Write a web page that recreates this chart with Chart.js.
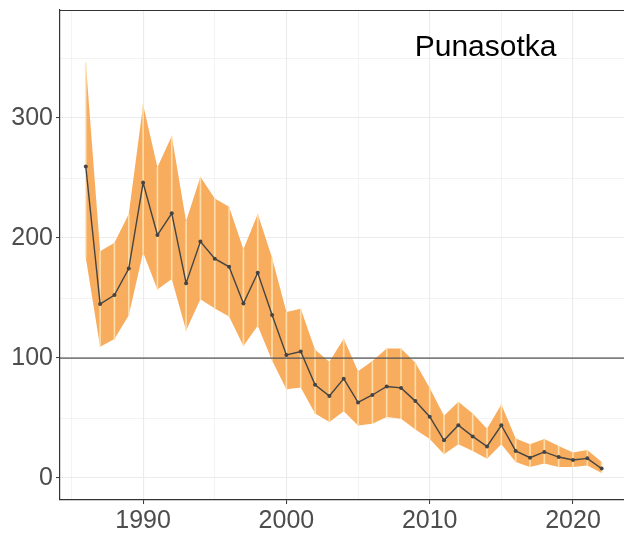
<!DOCTYPE html>
<html>
<head>
<meta charset="utf-8">
<script src="https://cdn.jsdelivr.net/npm/chart.js@4"></script>
<style>
  body { margin: 0; background: #fff; }
  canvas { display: block; }
</style>
</head>
<body>
<canvas id="chart" width="624" height="533"></canvas>
<script>
// data
const years = [1986, 1987, 1988, 1989, 1990, 1991, 1992, 1993, 1994, 1995, 1996, 1997, 1998, 1999,
  2000, 2001, 2002, 2003, 2004, 2005, 2006, 2007, 2008, 2009, 2010, 2011, 2012, 2013, 2014, 2015,
  2016, 2017, 2018, 2019, 2020, 2021, 2022];
const index = [259.6, 145, 152.5, 174.6, 246, 202.5, 220.6, 162.4, 197, 182.8, 176, 145.5, 171, 135.9,
  102.5, 105.4, 77.7, 68.4, 82.8, 63, 69.2, 76.3, 75.1, 64.1, 51.1, 31.4, 44, 34.7, 26.3, 44,
  22.6, 17, 21.8, 17.5, 15, 16.4, 7.9];
const upper = [346, 189, 196, 220, 311, 259, 285, 214, 251, 233, 226, 190.7, 220, 183.6,
  138.4, 141, 107, 97, 116, 89, 97.5, 108, 108, 96, 75, 52, 63.5, 53.7, 41, 61.3,
  33, 28.2, 32.5, 26.8, 21.2, 23.4, 13.3];
const lower = [183.6, 109.3, 115.8, 135.6, 188, 157, 165.8, 122.9, 148.9, 141.2, 134.7, 110, 127, 98,
  74, 75.4, 53.7, 46.6, 55.6, 43.8, 45.2, 50.8, 49.4, 40.4, 32.5, 19.8, 28.2, 22.6, 16.1, 28.2,
  13.3, 9.3, 12.1, 9.3, 9.3, 10.5, 4.2];
const xTicks = [1985, 1990, 1995, 2000, 2005, 2010, 2015, 2020];
const yTicks = [0, 50, 100, 150, 200, 250, 300, 350];
const refLevel = 100;
const speciesName = "Punasotka";

const xMin = 1984.2, xMax = 2023.56;
const yMin = -18.3, yMax = 390;

const pts = arr => years.map((yr, i) => ({ x: yr, y: arr[i] }));

// panel border on top + species label
const panelPlugin = {
  id: 'panel',
  afterDraw(chart) {
    const { ctx, chartArea, scales } = chart;
    ctx.save();
    ctx.strokeStyle = '#333';
    ctx.lineWidth = 1;
    ctx.beginPath();
    ctx.moveTo(chartArea.left, chartArea.top + 0.5);
    ctx.lineTo(chartArea.right, chartArea.top + 0.5);
    ctx.stroke();
    ctx.fillStyle = '#000';
    ctx.font = '30px "Liberation Sans", Arial, sans-serif';
    ctx.textAlign = 'center';
    ctx.textBaseline = 'alphabetic';
    ctx.fillText(speciesName, scales.x.getPixelForValue(2013.9), scales.y.getPixelForValue(351.7));
    ctx.restore();
  }
};

const isMajor = (v, step) => Math.abs(v % step) < 1e-6;
const tickVal = c => (c.tick ? c.tick.value : NaN);

new Chart(document.getElementById('chart').getContext('2d'), {
  type: 'line',
  data: {
    datasets: [
      {
        label: 'lower',
        data: pts(lower),
        borderWidth: 0,
        pointRadius: 0,
        fill: false,
        order: 5
      },
      {
        label: 'upper',
        data: pts(upper),
        borderWidth: 0,
        pointRadius: 0,
        backgroundColor: 'rgba(248, 168, 84, 0.95)',
        fill: '-1',
        order: 4
      },
      {
        type: 'bar',
        label: 'seams',
        data: years.map((yr, i) => ({ x: yr, y: [lower[i], upper[i]] })),
        backgroundColor: 'rgba(253, 228, 180, 0.85)',
        barThickness: 1,
        grouped: false,
        order: 3
      },
      {
        label: 'ref',
        data: [{ x: xMin, y: refLevel }, { x: xMax, y: refLevel }],
        borderColor: '#555',
        borderWidth: 1.3,
        pointRadius: 0,
        fill: false,
        order: 2
      },
      {
        label: 'index',
        data: pts(index),
        borderColor: '#444',
        borderWidth: 1.4,
        pointRadius: 2,
        pointBackgroundColor: '#444',
        pointBorderWidth: 0,
        fill: false,
        tension: 0,
        order: 1
      }
    ]
  },
  options: {
    responsive: false,
    animation: false,
    layout: { autoPadding: false, padding: { top: 10, right: 0, left: 0, bottom: 0 } },
    plugins: {
      legend: { display: false },
      tooltip: { enabled: false }
    },
    scales: {
      x: {
        type: 'linear',
        offset: false,
        min: xMin,
        max: xMax,
        afterBuildTicks: scale => {
          scale.ticks = xTicks.map(v => ({ value: v }));
        },
        afterFit: scale => {
          scale.height = 33;
          scale.paddingLeft = 0;
          scale.paddingRight = 0;
        },
        ticks: {
          autoSkip: false,
          maxRotation: 0,
          padding: 2,
          color: '#4d4d4d',
          font: { size: 25, family: '"Liberation Sans", Arial, sans-serif' },
          callback: v => isMajor(v, 10) ? String(v) : ''
        },
        grid: {
          offset: false,
          color: '#ebebeb',
          lineWidth: c => isMajor(tickVal(c), 10) ? 1.1 : 0.6,
          tickColor: c => isMajor(tickVal(c), 10) ? '#333' : 'rgba(0,0,0,0)',
          tickLength: 4,
          tickWidth: 1
        },
        border: { color: '#333', width: 1.2 }
      },
      y: {
        min: yMin,
        max: yMax,
        afterBuildTicks: scale => {
          scale.ticks = yTicks.map(v => ({ value: v }));
        },
        afterFit: scale => {
          scale.width = 60;
          scale.paddingTop = 0;
          scale.paddingBottom = 0;
        },
        ticks: {
          padding: 3,
          color: '#4d4d4d',
          font: { size: 25, family: '"Liberation Sans", Arial, sans-serif' },
          callback: v => isMajor(v, 100) ? String(v) : ''
        },
        grid: {
          color: '#ebebeb',
          lineWidth: c => isMajor(tickVal(c), 100) ? 1.1 : 0.6,
          tickColor: c => isMajor(tickVal(c), 100) ? '#333' : 'rgba(0,0,0,0)',
          tickLength: 4,
          tickWidth: 1
        },
        border: { color: '#333', width: 1.2 }
      }
    }
  },
  plugins: [panelPlugin]
});
</script>
</body>
</html>
